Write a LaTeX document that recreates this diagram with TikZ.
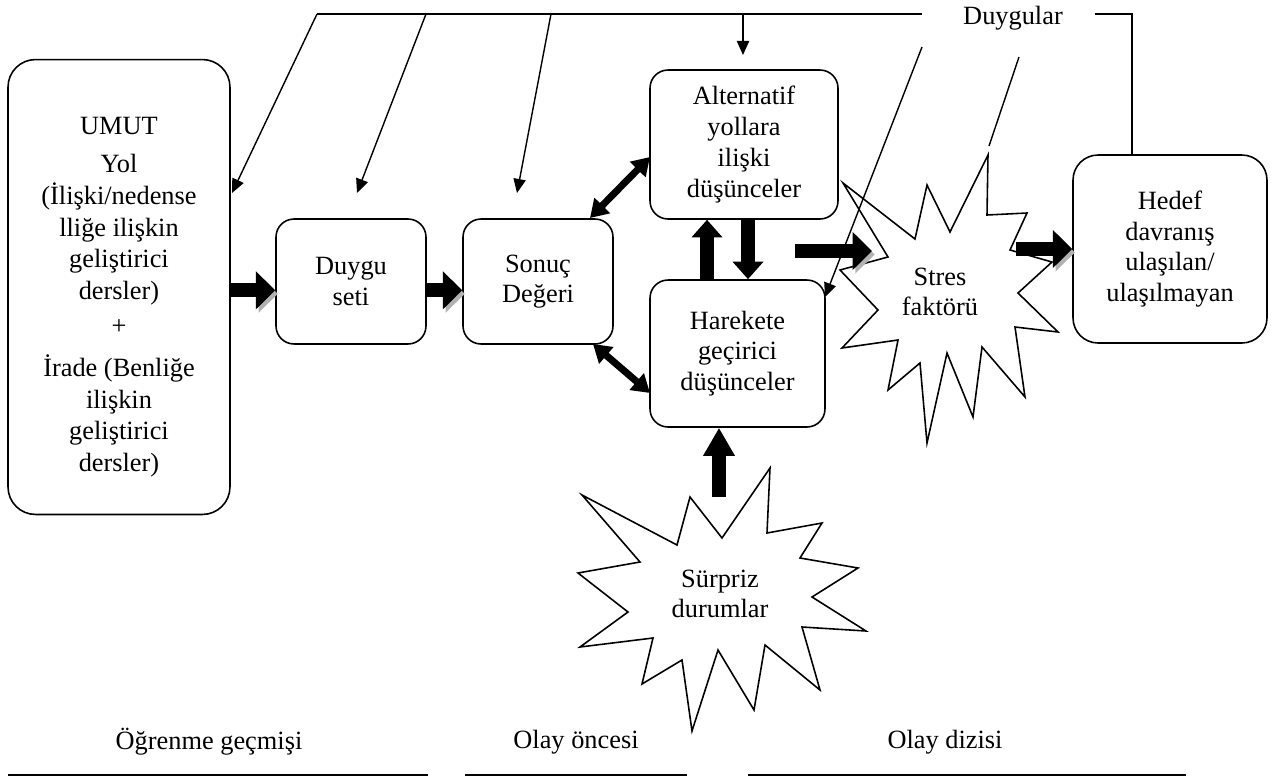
\documentclass[tikz,border=0pt]{standalone}
\usepackage{fontspec}
\setmainfont{Liberation Serif}
\usetikzlibrary{arrows.meta,calc}

\begin{document}
\begin{tikzpicture}[
  x=0.02cm,y=-0.02cm,
  every node/.style={font=\fontsize{15}{17.5}\selectfont,align=center},
  kutu/.style={draw,line width=0.9pt,rounded corners=0.36cm,inner sep=0pt},
  ince/.style={line width=0.8pt,-{Triangle[length=8pt,width=7pt]}},
  kalin/.style={line width=8pt,-{Triangle[length=11pt,width=21pt]},
    preaction={draw=black!30,transform canvas={shift={(1.5pt,-2pt)}}}},
  dikey/.style={line width=8.5pt,-{Triangle[length=10pt,width=17pt]}},
  cift/.style={line width=4pt,{Triangle[length=10pt,width=12pt]}-{Triangle[length=10pt,width=12pt]}},
  yildiz/.style={draw,line width=0.9pt,fill=white,line join=miter}]
  \useasboundingbox (0,0) rectangle (1272,778);
  \node[kutu,rounded corners=0.55cm,minimum width=4.44cm,minimum height=9.1cm](umut) at(119,287){};
  \node[font=\fontsize{15}{18}\selectfont](umutyazi) at(119,297){UMUT\\[4pt]Yol\\(İlişki/nedense\\lliğe ilişkin\\geliştirici\\dersler)\\[2pt]+\\[6pt]İrade (Benliğe\\ilişkin\\geliştirici\\dersler)};
  \node[kutu,minimum width=3cm,minimum height=2.5cm](duygu) at(351,281.5){Duygu\\seti};
  \node[kutu,minimum width=3cm,minimum height=2.5cm](sonuc) at(538,281.5){Sonuç\\Değeri};
  \node[kutu,minimum width=3.76cm,minimum height=2.98cm](alternatif) at(744,144.5){Alternatif\\yollara\\ilişki\\düşünceler};
  \node[kutu,minimum width=3.5cm,minimum height=2.94cm](harekete) at(737.5,353.5){Harekete\\geçirici\\düşünceler};
  \node[kutu,rounded corners=0.5cm,minimum width=3.88cm,minimum height=3.76cm](hedef) at(1170,249){Hedef\\davranış\\ulaşılan/\\ulaşılmayan};
  \draw[yildiz] (843,183) -- (915,239) -- (927,185) -- (950,232) -- (988,155) -- (987,215) -- (1027,213) -- (1010,250)
    -- (1052,262) -- (1018,293) -- (1058,332) -- (1015,327) -- (1025,397) -- (982,347) -- (973,417) -- (947,353)
    -- (927,443) -- (920,363) -- (888,390) -- (898,340) -- (842,348) -- (878,310) -- (840,270) -- (888,257) -- cycle;
  \node(stres) at(940,292){Stres\\faktörü};
  \draw[yildiz] (582,495) -- (677,545) -- (690,497) -- (722,538) -- (770,468) -- (767,533) -- (822,523) -- (800,558)
    -- (858,568) -- (812,597) -- (866,631) -- (802,627) -- (820,690) -- (765,645) -- (754,710) -- (718,650)
    -- (692,731) -- (682,660) -- (642,684) -- (653,638) -- (580,647) -- (628,612) -- (578,573) -- (640,562) -- cycle;
  \node(surpriz) at(720,594){Sürpriz\\durumlar};
  \node(duygular) at(1013,18){Duygular};
  \coordinate(u1) at(317,14); \coordinate(u2) at(426,14); \coordinate(u3) at(551,14);
  \coordinate(u4) at(743,14); \coordinate(u5) at(922,14);
  \coordinate(v1) at(1095,14); \coordinate(v2) at(1132,14);
  \coordinate(a1) at(232,193); \coordinate(a2) at(357,193); \coordinate(a3) at(517,193); \coordinate(a4) at(743,55);
  \coordinate(w1) at(922,47); \coordinate(w2) at(825,297); \coordinate(w3) at(1019,57); \coordinate(w4) at(989,146);
  \coordinate(c1) at(590,218); \coordinate(c2) at(650,157); \coordinate(c3) at(593,344); \coordinate(c4) at(650,393);
  \coordinate(upx) at(707,0); \coordinate(dnx) at(748,0); \coordinate(surtop) at(719,497);
  \coordinate(s1) at(795,251); \coordinate(s2) at(872,251); \coordinate(s3) at(1016,249);
  \draw[line width=0.8pt](u1)--(u5); \draw[line width=0.8pt](v1)--(v2)--(hedef.north -| v2);
  \draw[ince](u1)--(a1); \draw[ince](u2)--(a2); \draw[ince](u3)--(a3); \draw[ince](u4)--(a4);
  \draw[ince](w1)--(w2); \draw[line width=0.8pt](w3)--(w4);
  \draw[kalin]([yshift=-5pt]umut.east |- duygu.west)--([yshift=-5pt]duygu.west);
  \draw[kalin]([yshift=-5pt]duygu.east)--([yshift=-5pt]sonuc.west);
  \draw[kalin](s1)--(s2); \draw[kalin](s3)--(hedef.west);
  \draw[cift](c1)--(c2); \draw[cift](c3)--(c4);
  \draw[dikey](harekete.north -| upx)--(alternatif.south -| upx);
  \draw[dikey](alternatif.south -| dnx)--(harekete.north -| dnx);
  \draw[dikey,-{Triangle[length=16pt,width=17pt]}](surtop)--(harekete.south -| surtop);
  \node(ogrenme) at(209,742){Öğrenme geçmişi};
  \node(oncesi) at(576,742){Olay öncesi};
  \node(dizisi) at(945,742){Olay dizisi};
  \draw[line width=1.2pt](8,775)--(428,775); \draw[line width=1.2pt](465,775)--(687,775);
  \draw[line width=1.2pt](748,775)--(1186,775);
\end{tikzpicture}
\end{document}
